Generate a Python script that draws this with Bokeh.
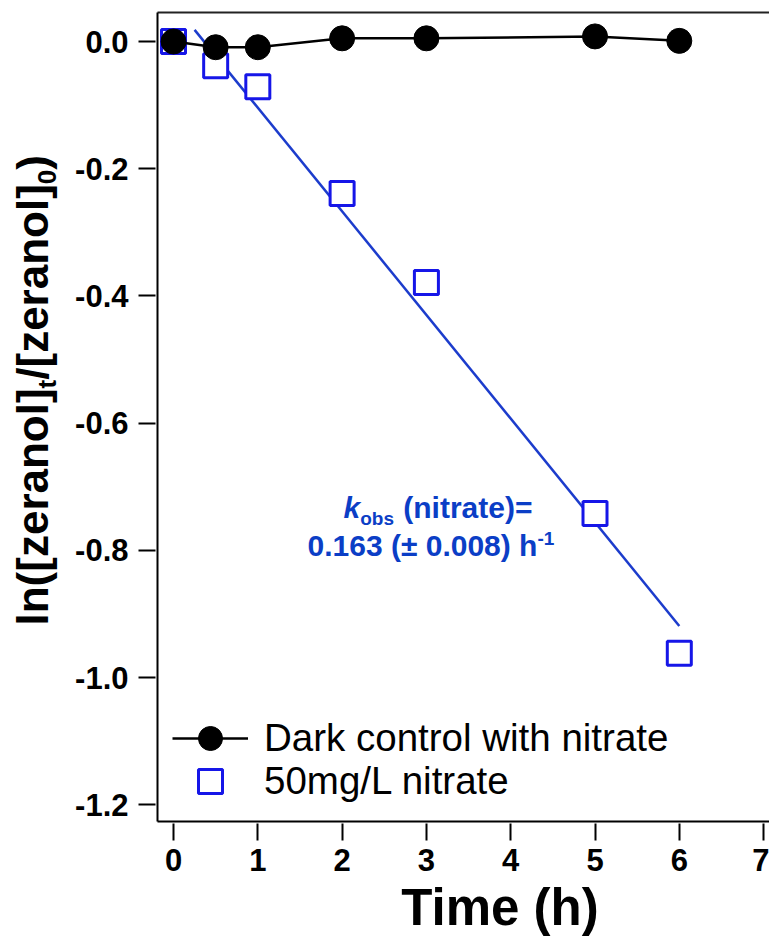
import numpy as np
from bokeh.plotting import figure
from bokeh.layouts import row, column
from bokeh.models import (Range1d, LinearAxis, FixedTicker, PrintfTickFormatter,
                          Label, Legend, LegendItem)
from bokeh.embed import file_html
from bokeh.resources import INLINE

# ---- data -------------------------------------------------------------
time_dark = [0, 0.5, 1, 2, 3, 5, 6]
ln_dark = [0.0, -0.009, -0.009, 0.005, 0.005, 0.008, 0.001]

time_nitrate = [0, 0.5, 1, 2, 3, 5, 6]
ln_nitrate = [0.0, -0.038, -0.071, -0.239, -0.379, -0.742, -0.962]

# first-order fit for the irradiated nitrate series
k_obs = 0.163
k_err = 0.008
fit_intercept = 0.059
fit_time = [0.25, 6.0]
fit_ln = [fit_intercept - k_obs * t for t in fit_time]

x_ticks = [0, 1, 2, 3, 4, 5, 6, 7]
y_ticks = [0.0, -0.2, -0.4, -0.6, -0.8, -1.0, -1.2]

# ---- styling ----------------------------------------------------------
FONT = "Liberation Sans"
BLUE_MARK = "#1616e8"
BLUE_LINE = "#1c3ccc"
BLUE_TEXT = "#0b3ec6"

# advance widths of Liberation Sans Bold (per 1000 em), used to lay out
# the multi-part rich labels
BOLD_W = {' ': 278, '(': 333, ')': 333, '[': 333, ']': 333, '/': 278, '=': 584,
          '.': 278, '-': 333, '±': 549, 'a': 556, 'b': 611, 'e': 556, 'h': 611,
          'i': 278, 'k': 556, 'l': 278, 'n': 611, 'o': 611, 'r': 389, 's': 556,
          't': 333, 'z': 500, 'T': 611, 'm': 889}
for d in "0123456789":
    BOLD_W[d] = 556

# Label's anchor sits a little below the true baseline; this moves it back
BASE_FIX = 0.36


def text_width(s, size):
    return sum(BOLD_W.get(c, 556) for c in s) / 1000.0 * size


def strip(w, h, border_left=0, x0=0):
    """A bare, axis-less figure used as a canvas for free-standing titles."""
    f = figure(width=w, height=h, x_range=Range1d(x0, x0 + w - border_left),
               y_range=Range1d(0, h),
               x_axis_location=None, y_axis_location=None,
               output_backend="svg", toolbar_location=None,
               min_border=0, min_border_left=border_left, min_border_right=0,
               min_border_top=0, min_border_bottom=0)
    f.grid.visible = False
    f.outline_line_color = None
    f.background_fill_color = "white"
    f.border_fill_color = "white"
    return f


TOTAL_W, TOTAL_H = 769, 936
LEFT_W = 66
MAIN_H = 878
FRAME_LEFT = 157      # canvas x of the plot frame's left edge
FRAME_BOTTOM = 821    # canvas y of the plot frame's bottom edge

# ---- main plot --------------------------------------------------------
p = figure(width=TOTAL_W - LEFT_W, height=MAIN_H,
           x_range=Range1d(-0.19, 7.07), y_range=Range1d(-1.2264, 0.0456),
           output_backend="svg", toolbar_location=None,
           min_border_left=FRAME_LEFT - LEFT_W, min_border_right=0,
           min_border_top=12, min_border_bottom=MAIN_H - FRAME_BOTTOM)
p.outline_line_color = None
p.grid.visible = False
p.background_fill_color = "white"
p.border_fill_color = "white"

for ax in (p.xaxis[0], p.yaxis[0]):
    ax.axis_line_width = 2
    ax.axis_line_color = "black"
    ax.major_tick_line_width = 2
    ax.major_tick_line_color = "black"
    ax.major_tick_in = -2
    ax.major_tick_out = 19
    ax.minor_tick_out = 0
    ax.minor_tick_in = 0
    ax.major_label_text_font = FONT
    ax.major_label_text_font_style = "bold"
    ax.major_label_text_font_size = "31px"
    ax.major_label_text_color = "black"

p.xaxis[0].ticker = FixedTicker(ticks=x_ticks)
p.xaxis[0].major_label_standoff = 8
p.yaxis[0].ticker = FixedTicker(ticks=y_ticks)
p.yaxis[0].formatter = PrintfTickFormatter(format="%.1f")
p.yaxis[0].major_label_standoff = 10

# top border line
top = LinearAxis(ticker=FixedTicker(ticks=[]), major_label_text_font_size="0px",
                 axis_line_width=2, axis_line_color="#222222",
                 major_tick_out=0, major_tick_in=0, minor_tick_out=0, minor_tick_in=0)
p.add_layout(top, "above")

# ---- glyphs -----------------------------------------------------------
p.line(fit_time, fit_ln, line_color=BLUE_LINE, line_width=2.5)
sq = p.scatter(time_nitrate, ln_nitrate, marker="square", size=24,
               fill_color="white", line_color=BLUE_MARK, line_width=3)
dl = p.line(time_dark, ln_dark, line_color="black", line_width=2.5)
dc = p.scatter(time_dark, ln_dark, marker="circle", size=25,
               fill_color="black", line_color="black")

legend_style = dict(padding=0, margin=0, glyph_width=76, glyph_height=60,
                    label_height=20, label_standoff=16, label_text_font=FONT,
                    label_text_font_size="38.5px", label_text_color="black",
                    border_line_color=None, background_fill_alpha=0)
p.add_layout(Legend(items=[LegendItem(label="Dark control with nitrate",
                                      renderers=[dl, dc])],
                    location=(15, 53), **legend_style))
p.add_layout(Legend(items=[LegendItem(label="50mg/L nitrate", renderers=[sq])],
                    location=(15, 10), **legend_style))

# ---- rate constant annotation ----------------------------------------
F2, S2 = 30, 19
txt_style = dict(x_units="screen", y_units="screen", text_align="left",
                 text_baseline="alphabetic", text_font=FONT, text_color=BLUE_TEXT)


def hlabel(x, baseline, text, size, style="bold"):
    """Horizontal text piece placed by its canvas baseline."""
    p.add_layout(Label(x=x - FRAME_LEFT, y=FRAME_BOTTOM - baseline + BASE_FIX * size,
                       text=text, text_font_style=style,
                       text_font_size=f"{size}px", **txt_style))


x1 = 343
hlabel(x1, 518, "k", F2, "bold italic")
x1 += text_width("k", F2)
hlabel(x1, 525, "obs", S2)
x1 += text_width("obs ", S2) + 4
hlabel(x1, 518, "(nitrate)=", F2)

line2 = f"{k_obs:.3f} (\u00b1 {k_err:.3f}) h"
x2 = 307
hlabel(x2, 556, line2, F2)
x2 += text_width(line2, F2)
hlabel(x2, 545, "-1", S2)

# ---- y-axis title (rotated, with subscripts) --------------------------
left = strip(LEFT_W, TOTAL_H)
F, S = 44, 26
y_cur = TOTAL_H - 625
for txt, size, shift in [("ln([zeranol]", F, 0), ("t", S, 8), ("/[zeranol]", F, 0),
                         ("0", S, 8), (")", F, 0)]:
    left.add_layout(Label(x=48 + shift - BASE_FIX * size, y=y_cur, text=txt,
                          angle=np.pi / 2, text_align="left",
                          text_baseline="alphabetic", text_font=FONT,
                          text_font_style="bold", text_font_size=f"{size}px",
                          text_color="black"))
    y_cur += text_width(txt, size)

# ---- x-axis title -----------------------------------------------------
# the strip's frame lines up with the plot frame; its x data = canvas x
X_TITLE = 51
x_title = "Time (h)"
bottom = strip(TOTAL_W - LEFT_W, TOTAL_H - MAIN_H,
               border_left=FRAME_LEFT - LEFT_W, x0=FRAME_LEFT)
bottom.add_layout(Label(x=500 - text_width(x_title, X_TITLE) / 2,
                        y=TOTAL_H - 925 + BASE_FIX * X_TITLE,
                        text=x_title, text_align="left",
                        text_baseline="alphabetic", text_font=FONT,
                        text_font_style="bold", text_font_size=f"{X_TITLE}px",
                        text_color="black"))

layout = row(left, column(p, bottom, spacing=0), spacing=0)
open("out.html", "w").write(file_html(layout, INLINE))
